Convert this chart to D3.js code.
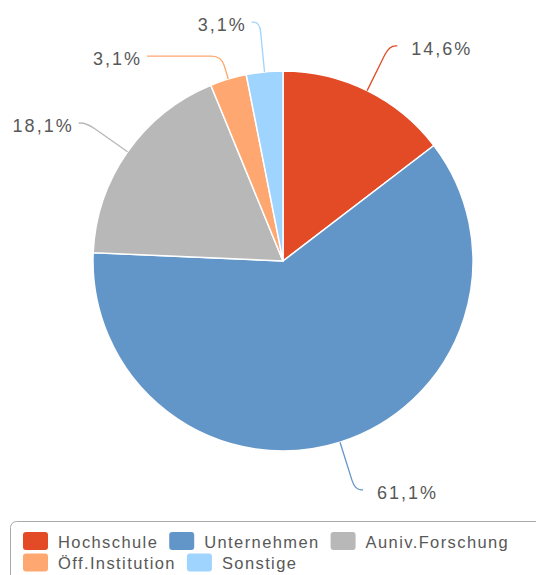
<!DOCTYPE html>
<html>
<head>
<meta charset="utf-8">
<script src="https://cdn.jsdelivr.net/npm/d3@7"></script>
<style>
  body { margin: 0; background: #fff; }
  text { font-family: "Liberation Sans", Arial, sans-serif; fill: #585858; }
</style>
</head>
<body>
<svg id="drawing_region"></svg>
<script>
// chart data
const categories = ['Hochschule', 'Unternehmen', 'Auniv.Forschung', 'Öff.Institution', 'Sonstige'];
const values = [14.6, 61.1, 18.1, 3.1, 3.1];
const labels = ['14,6%', '61,1%', '18,1%', '3,1%', '3,1%'];
const colors = ['#e34a26', '#6396c8', '#b8b8b8', '#ffa770', '#9fd4ff'];

const W = 536, H = 575;
const cx = 283, cy = 261, r = 190;
const len1 = 50, len2 = 8, minGap = 34;

const svg = d3.select('#drawing_region')
    .attr('width', W)
    .attr('height', H);

const data = categories.map((c, i) => ({name: c, value: values[i], label: labels[i], color: colors[i]}));

const pie = d3.pie().sort(null).value(d => d.value);
const arcs = pie(data);
const arc = d3.arc().innerRadius(0).outerRadius(r);

const g = svg.append('g').attr('transform', `translate(${cx},${cy})`);

g.selectAll('path.slice').data(arcs).enter()
    .append('path')
    .attr('class', 'slice')
    .attr('d', arc)
    .attr('fill', d => d.data.color)
    .attr('stroke', '#fff')
    .attr('stroke-width', 1.5);

// label positions
const R2 = r + len1;
const lab = arcs.map(d => {
    const a = (d.startAngle + d.endAngle) / 2;
    const s = Math.sin(a), c = Math.cos(a);
    return {
        d: d, a: a, s: s, c: c,
        right: s >= 0,
        p1: [r * s, -r * c],
        y: -R2 * c,
        y0: -R2 * c
    };
});

// push apart on each side
[true, false].forEach(side => {
    const list = lab.filter(l => l.right === side).sort((a, b) => a.y - b.y);
    for (let i = 1; i < list.length; i++) {
        if (list[i].y - list[i - 1].y < minGap) list[i].y = list[i - 1].y + minGap;
    }
});

lab.forEach(l => {
    const dir = l.right ? 1 : -1;
    if (Math.abs(l.y - l.y0) > 0.5) {
        const t = (l.y - l.p1[1]) / (-l.c);
        l.p2 = [l.p1[0] + t * l.s, l.y];
        const dy = l.y;
        const dx = Math.abs(dy) < R2 ? Math.sqrt(R2 * R2 - dy * dy) : Math.abs(l.p2[0]);
        l.p3 = [dir * dx + dir * len2 + dir * 3, l.y];
    } else {
        l.p2 = [R2 * l.s, l.y];
        l.p3 = [l.p2[0] + dir * len2, l.y];
    }
});

function leader(l) {
    const p = d3.path();
    const [x1, y1] = l.p1, [x2, y2] = l.p2, [x3, y3] = l.p3;
    const k = 10;
    const d1 = Math.hypot(x2 - x1, y2 - y1), d2 = Math.hypot(x3 - x2, y3 - y2);
    const a1 = Math.min(k, d1 * 0.5), a2 = Math.min(k, d2 * 0.8);
    p.moveTo(x1, y1);
    p.lineTo(x2 - (x2 - x1) / d1 * a1, y2 - (y2 - y1) / d1 * a1);
    p.quadraticCurveTo(x2, y2, x2 + (x3 - x2) / d2 * a2, y2 + (y3 - y2) / d2 * a2);
    p.lineTo(x3, y3);
    return p.toString();
}

g.selectAll('path.line').data(lab).enter()
    .append('path')
    .attr('class', 'line')
    .attr('d', leader)
    .attr('fill', 'none')
    .attr('stroke', l => l.d.data.color)
    .attr('stroke-width', 1.3);

g.selectAll('text.lbl').data(lab).enter()
    .append('text')
    .attr('class', 'lbl')
    .attr('x', l => l.right ? l.p3[0] + 14 : l.p3[0] - 5)
    .attr('y', l => l.p3[1] + 3)
    .attr('dominant-baseline', 'central')
    .attr('text-anchor', l => l.right ? 'start' : 'end')
    .style('font-size', '18px')
    .style('letter-spacing', '2px')
    .text(l => l.d.data.label);

// legend
const legend = svg.append('g');
legend.append('rect')
    .attr('x', 10.5).attr('y', 521.5)
    .attr('width', 560).attr('height', 80)
    .attr('rx', 6)
    .attr('fill', '#fff')
    .attr('stroke', '#aaa')
    .attr('stroke-width', 1);

const lx0 = 23, ly0 = 532, rowH = 21.5, maxX = 530;
let lx = lx0, ly = ly0;
data.forEach(d => {
    const item = legend.append('g');
    const t = item.append('text')
        .attr('y', 9.5)
        .attr('dominant-baseline', 'central')
        .style('font-size', '16.5px')
        .style('letter-spacing', '1.4px')
        .text(d.name);
    const tw = t.node().getComputedTextLength();
    const iw = 25 + 10 + tw;
    if (lx + iw > maxX && lx > lx0) { lx = lx0; ly += rowH; }
    item.attr('transform', `translate(${lx},${ly})`);
    item.insert('rect', 'text')
        .attr('width', 25).attr('height', 18)
        .attr('rx', 3)
        .attr('fill', d.color);
    t.attr('x', 35);
    lx += iw + 11;
});
</script>
</body>
</html>
